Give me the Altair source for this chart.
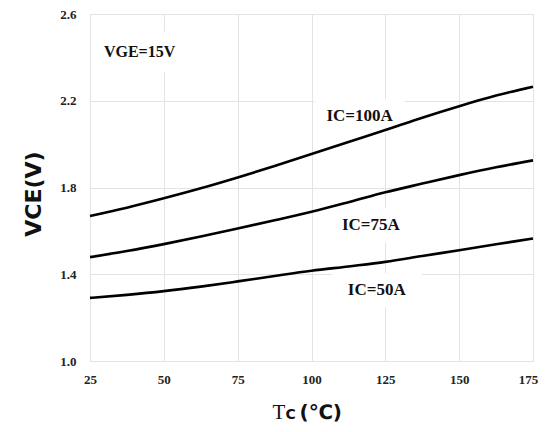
import altair as alt
import pandas as pd

temps = [25, 37.5, 50, 62.5, 75, 87.5, 100, 112.5, 125, 137.5, 150, 162.5, 175]
vce_100a = [1.669, 1.707, 1.750, 1.796, 1.846, 1.899, 1.954, 2.010, 2.065, 2.122, 2.175, 2.224, 2.265]
vce_75a = [1.479, 1.507, 1.539, 1.574, 1.611, 1.649, 1.688, 1.732, 1.778, 1.818, 1.857, 1.893, 1.925]
vce_50a = [1.291, 1.305, 1.322, 1.343, 1.367, 1.392, 1.416, 1.436, 1.457, 1.484, 1.511, 1.538, 1.565]
series_names = ["IC=100A", "IC=75A", "IC=50A"]

label_text = ["IC=100A", "IC=75A", "IC=50A"]
label_t = [116.3, 120.1, 122.1]
label_v = [2.129, 1.626, 1.326]
cond_text = ["VGE=15V"]
cond_t = [41.8]
cond_v = [2.427]

x_ticks = [25, 50, 75, 100, 125, 150, 175]
y_ticks = [1.0, 1.4, 1.8, 2.2, 2.6]

rows = []
for name, vals in zip(series_names, [vce_100a, vce_75a, vce_50a]):
    for t, v in zip(temps, vals):
        rows.append({"series": name, "T": t, "V": v})
df = pd.DataFrame(rows)
labels = pd.DataFrame({"text": label_text, "T": label_t, "V": label_v})
cond = pd.DataFrame({"text": cond_text, "T": cond_t, "V": cond_v})

xscale = alt.Scale(domain=[25, 175], nice=False, zero=False)
yscale = alt.Scale(domain=[1.0, 2.6], nice=False, zero=False)

xaxis = alt.Axis(values=x_ticks, title=None, grid=True, domain=False, ticks=False,
                 labelFont="Liberation Serif", labelFontWeight="bold", labelFontSize=13,
                 labelColor="#222", labelPadding=12, labelFlush=False,
                 labelOffset={"condition": {"test": "datum.value == 175", "value": -5}, "value": 0},
                 gridColor="#e3e3e3", gridWidth=1)
yaxis = alt.Axis(values=y_ticks, format=".1f", title=None, grid=True, domain=False, ticks=False,
                 labelFont="Liberation Serif", labelFontWeight="bold", labelFontSize=13,
                 labelColor="#222", labelPadding=14,
                 gridColor="#e3e3e3", gridWidth=1)

lines = alt.Chart(df).mark_line(color="black", strokeWidth=2.6, interpolate="monotone").encode(
    x=alt.X("T:Q", scale=xscale, axis=xaxis),
    y=alt.Y("V:Q", scale=yscale, axis=yaxis),
    detail="series:N",
)

boxes = alt.Chart(labels).mark_rect(color="white", width=90, height=34).encode(
    x=alt.X("T:Q", scale=xscale), y=alt.Y("V:Q", scale=yscale)
)
cond_box = alt.Chart(cond).mark_rect(color="white", width=84, height=40).encode(
    x=alt.X("T:Q", scale=xscale), y=alt.Y("V:Q", scale=yscale)
)

label_marks = alt.Chart(labels).mark_text(
    font="Liberation Serif", fontWeight="bold", fontSize=17, color="#111"
).encode(x=alt.X("T:Q", scale=xscale), y=alt.Y("V:Q", scale=yscale), text="text:N")

cond_mark = alt.Chart(cond).mark_text(
    font="Liberation Serif", fontWeight="bold", fontSize=16, color="#111"
).encode(x=alt.X("T:Q", scale=xscale), y=alt.Y("V:Q", scale=yscale), text="text:N")

ytitle = alt.Chart(pd.DataFrame({"t": ["VCE(V)"]})).mark_text(
    font="DejaVu Sans", fontWeight="bold", fontSize=22, angle=270, color="#111",
    align="center", baseline="middle"
).encode(x=alt.value(-56), y=alt.value(180), text="t:N")

xt1 = alt.Chart(pd.DataFrame({"t": ["T"]})).mark_text(
    font="Liberation Serif", fontSize=21, color="#111", align="left", baseline="alphabetic"
).encode(x=alt.value(182.5), y=alt.value(405), text="t:N")
xt2 = alt.Chart(pd.DataFrame({"t": ["C"]})).mark_text(
    font="DejaVu Sans", fontWeight="bold", fontSize=14, color="#111", align="left", baseline="alphabetic"
).encode(x=alt.value(195.5), y=alt.value(405), text="t:N")
xt3 = alt.Chart(pd.DataFrame({"t": ["(℃)"]})).mark_text(
    font="DejaVu Sans", fontWeight="bold", fontSize=20, color="#111", align="left", baseline="alphabetic"
).encode(x=alt.value(209.5), y=alt.value(405), text="t:N")

chart = alt.layer(boxes, cond_box, lines, label_marks, cond_mark, ytitle, xt1, xt2, xt3).properties(
    width=443, height=347,
    autosize=alt.AutoSizeParams(type="none"),
    padding={"left": 82, "top": 6, "right": 6, "bottom": 63},
).configure_view(stroke="#666", strokeWidth=1.5).configure(background="white")

chart.save("out.html", embed_options={"renderer": "svg", "actions": False})
